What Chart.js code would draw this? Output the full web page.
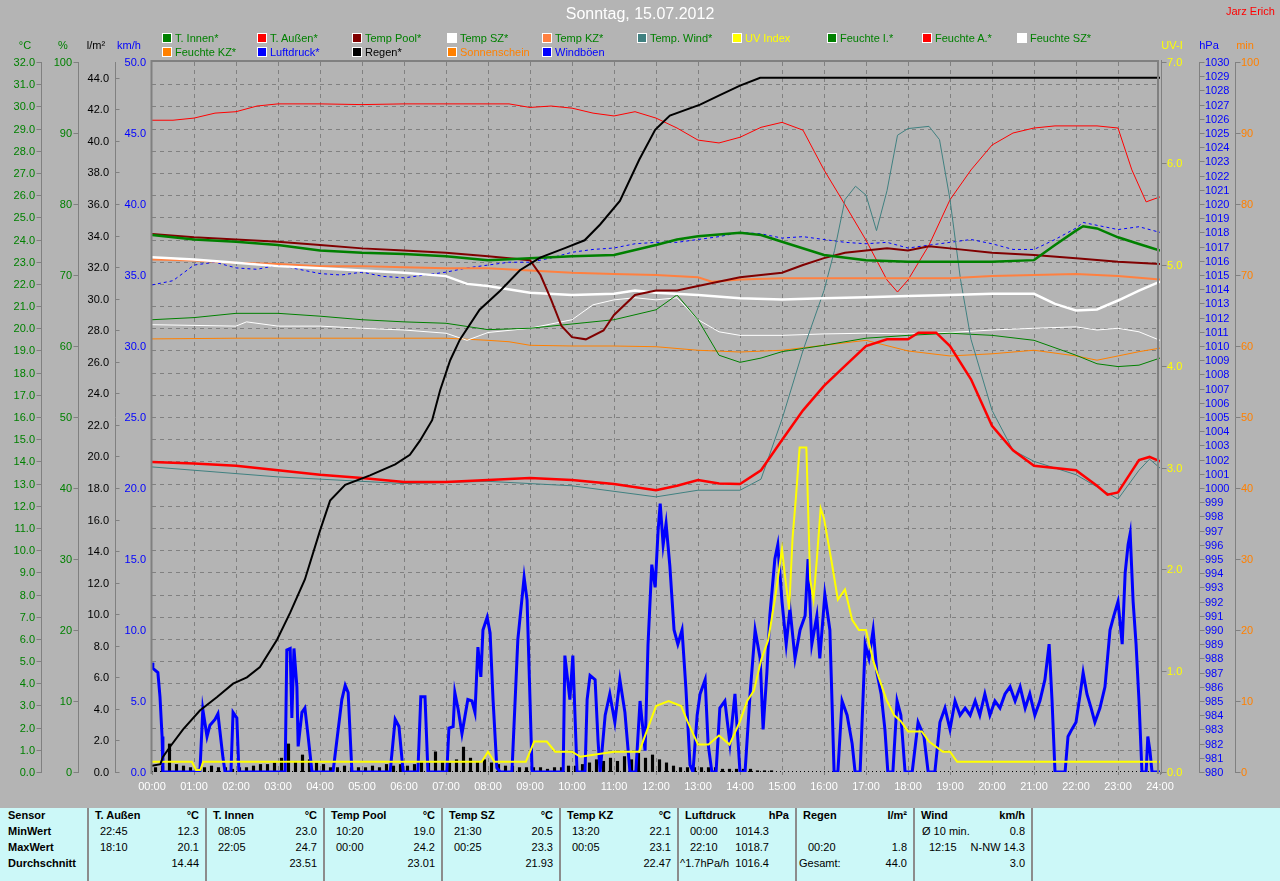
<!DOCTYPE html>
<html lang="de">
<head>
<meta charset="utf-8">
<title>Sonntag, 15.07.2012</title>
<script src="https://cdn.jsdelivr.net/npm/chart.js@4.4.0/dist/chart.umd.min.js"></script>
<style>
  html, body { margin:0; padding:0; background:#b4b4b4; width:1280px; height:881px; overflow:hidden;
    font-family:"Liberation Sans", Arial, sans-serif; }
  #wrap { position:relative; width:1280px; height:881px; }
  canvas { position:absolute; left:0; top:0; }
  .titel { position:absolute; left:0; width:1280px; top:5px; text-align:center; color:#fff; font-size:16px; }
  .autor { position:absolute; left:1226px; top:5px; color:#f00; font-size:11px; }
  .leg { position:absolute; font-size:11px; line-height:12px; white-space:nowrap; }
  .leg i { position:absolute; left:0; top:1px; width:8px; height:8px; border:1px solid #fff; }
  .leg span { position:absolute; left:13px; top:0; }
  #tabelle { position:absolute; left:0; top:808px; width:1280px; height:73px; background:#ccf8f8; font-size:11px; }
  #tabelle div { position:absolute; white-space:nowrap; line-height:14px; }
  #tabelle .b { font-weight:bold; }
  #tabelle .sep { width:2px; top:0; height:73px; background:#8c8c8c; }
</style>
</head>
<body>
<div id="wrap">
  <canvas id="diagramm" width="1280" height="881"></canvas>
  <div class="titel">Sonntag, 15.07.2012</div>
  <div class="autor">Jarz Erich</div>
  <div id="legende"></div>
  <div id="tabelle"></div>
</div>
<script>
// ============================
// Messwerte [Stunde, Wert]
// ============================
const regenSumme = [[0,0.4],[0.2,0.5],[0.26,0.95],[0.43,1.6],[0.74,2.7],[1.14,3.9],[1.55,4.75],[1.93,5.6],[2.26,6.0],
  [2.57,6.65],[2.98,8.4],[3.29,10.1],[3.64,12.2],[4.0,15.3],[4.24,17.2],[4.6,18.2],[5.19,18.8],[5.79,19.5],[6.14,20.1],
  [6.38,21.0],[6.67,22.3],[6.86,24.2],[7.1,26.1],[7.33,27.4],[7.8,29.3],[8.29,30.5],[8.76,31.8],[9.24,32.6],[9.83,33.2],
  [10.3,33.7],[10.67,34.7],[11.14,36.2],[11.6,38.8],[11.98,40.7],[12.33,41.6],[13.05,42.3],[13.52,42.9],[14.0,43.5],
  [14.48,44.0],[15.0,44.0],[24,44.0]];

// Regen je 10 Minuten ab 00:00 (l/m²)
const regenBalken = [0.3,0.4,1.8,0.5,0.4,0.3, 0.2,0.3,0.4,0.3,0.3,0.2, 0.3,0.3,0.4,0.5,0.5,0.6,
  0.9,1.8,0.7,1.1,0.8,0.6, 0.5,0.3,0.3,0.4,0.3,0.3, 0.3,0.4,0.3,0.5,0.4,0.5, 0.4,0.5,0.7,0.6,1.3,0.7,
  0.6,0.8,1.6,0.9,0.7,0.8, 0.6,0.5,0.4,0.4,0.3,0.3, 0.3,0.3,0.2,0.3,0.3,0.4, 0.4,0.5,0.6,0.8,0.7,0.9,
  0.7,1.0,0.8,1.2,0.9,1.1, 0.8,0.6,0.4,0.3,0.3,0.3, 0.3,0.3,0.3,0.2,0.2,0.2, 0.2,0.2,0.1,0.1,0.1,0];

const tAussen = [[0,13.97],[1,13.9],[2,13.8],[3,13.6],[4,13.4],[5,13.25],[6,13.07],[7,13.07],[8,13.16],[9,13.25],
  [10,13.16],[11,12.98],[12,12.7],[12.5,12.9],[13,13.16],[13.5,13.0],[14,12.98],[14.5,13.6],[15,14.96],[15.5,16.3],
  [16,17.4],[16.5,18.3],[17,19.2],[17.5,19.5],[18,19.5],[18.25,19.8],[18.67,19.8],[19,19.2],[19.5,17.7],[20,15.6],
  [20.5,14.5],[21,13.8],[21.5,13.7],[22,13.6],[22.5,12.9],[22.75,12.5],[23,12.6],[23.5,14.06],[23.75,14.2],[24,14.0]];

const tWind = [[0,13.75],[3,13.3],[6,13.0],[8,13.1],[10,12.9],[12,12.4],[13,12.7],[14,12.7],[14.5,13.2],[15,15.9],
  [15.5,19.0],[16,21.7],[16.25,23.5],[16.5,25.8],[16.75,26.4],[17,26.0],[17.25,24.4],[17.5,26.2],[17.75,28.7],
  [18,29.0],[18.5,29.1],[18.75,28.5],[19,25.8],[19.25,22.2],[19.5,19.5],[20,16.3],[20.5,14.5],[21,14.0],[22,13.4],
  [23,12.3],[23.5,13.6],[23.75,14.1],[24,13.7]];

const tInnen = [[0,24.2],[1,24.0],[2,23.9],[3,23.75],[4,23.5],[5,23.4],[6,23.35],[7,23.25],[8,23.07],[9,23.16],
  [10,23.25],[11,23.3],[12,23.75],[12.5,24.0],[13,24.15],[14,24.3],[14.5,24.2],[15,23.9],[16,23.3],[17,23.07],
  [18,23.0],[19,23.0],[20,23.0],[21,23.07],[21.5,23.75],[22,24.4],[22.17,24.6],[22.5,24.5],[23,24.1],[23.5,23.8],[24,23.5]];

const tPool = [[0,24.25],[1,24.1],[2,24.0],[3,23.9],[4,23.75],[5,23.6],[6,23.5],[7,23.4],[8,23.25],[9,23.07],
  [9.25,22.4],[9.5,21.3],[9.75,20.1],[10,19.6],[10.33,19.5],[10.75,19.9],[11,20.6],[11.5,21.5],[12,21.7],[12.5,21.7],
  [13,21.9],[14,22.3],[15,22.5],[15.5,22.85],[16,23.16],[16.5,23.4],[17,23.5],[17.5,23.6],[18,23.5],[18.5,23.7],
  [19,23.6],[20,23.4],[21,23.3],[22,23.16],[23,23.0],[24,22.9]];

const tKZ = [[0,23.1],[1,23.05],[2,22.95],[3,22.9],[4,22.8],[5,22.8],[6,22.75],[7,22.7],[8,22.7],[9,22.6],[10,22.5],
  [11,22.45],[12,22.4],[13,22.3],[13.33,22.1],[14,22.2],[15,22.25],[16,22.25],[17,22.25],[18,22.25],[19,22.25],
  [20,22.35],[21,22.4],[22,22.45],[23,22.35],[24,22.2]];

const tSZ = [[0,23.2],[1,23.1],[2,22.95],[3,22.8],[4,22.7],[5,22.6],[6,22.5],[7,22.35],[7.5,22.0],[8,21.9],[9,21.6],
  [10,21.5],[11,21.55],[11.5,21.7],[12,21.6],[13,21.5],[14,21.35],[15,21.3],[16,21.35],[17,21.4],[18,21.45],[19,21.5],
  [20,21.55],[21,21.55],[21.5,21.1],[22,20.8],[22.5,20.85],[23,21.25],[23.5,21.7],[24,22.1]];

const fInnen = [[0,63.7],[1,64.0],[2,64.6],[3,64.6],[4,64.2],[5,63.7],[6,63.4],[7,63.2],[8,62.3],[9,62.5],[10,63.1],
  [11,63.7],[12,65.1],[12.5,67.2],[13,63.7],[13.5,58.7],[14,57.7],[14.5,58.3],[15,59.2],[16,60.1],[17,61.1],[18,61.5],
  [19,61.8],[20,61.5],[21,60.8],[22,58.7],[22.5,57.5],[23,57.1],[23.5,57.3],[24,58.3]];

const fAussen = [[0,91.8],[0.5,91.8],[1,92.1],[1.5,92.8],[2,93.0],[2.5,93.8],[3,94.1],[4,94.1],[5,94.0],[6,94.1],
  [7,94.1],[8,94.1],[8.5,94.1],[9,93.6],[9.5,93.8],[10,93.5],[10.5,92.8],[11,92.4],[11.5,93.0],[12,92.1],[12.5,90.7],
  [13,89.0],[13.5,88.6],[14,89.4],[14.5,90.8],[15,91.5],[15.5,90.4],[16,84.8],[16.5,79.9],[17,74.9],[17.5,69.3],
  [17.75,67.6],[18,69.3],[18.5,74.2],[19,80.6],[19.5,84.8],[20,88.3],[20.5,90.0],[21,90.7],[21.5,91.0],[22,91.0],
  [22.5,91.0],[23,90.7],[23.33,84.8],[23.67,80.3],[24,81.0]];

const fSZ = [[0,63.0],[2,62.8],[2.25,63.4],[3,62.8],[4,62.8],[5,62.5],[6,62.25],[7,61.8],[7.5,60.8],[8,61.9],[9,62.5],
  [10,63.7],[10.5,65.8],[11,66.5],[11.5,66.8],[12,66.5],[12.5,66.8],[13,63.7],[13.5,62.0],[14,61.5],[15,61.5],[16,61.7],
  [17,61.8],[18,61.7],[19,61.9],[20,62.25],[21,62.5],[22,62.7],[22.5,62.25],[23,62.5],[23.5,62.0],[24,60.8]];

const fKZ = [[0,61.0],[2,61.1],[4,61.1],[6,61.1],[7,61.1],[8,60.8],[8.5,60.6],[9,60.1],[10,60.0],[11,60.0],[12,59.9],
  [13,59.4],[14,59.15],[15,59.4],[16,60.1],[17,60.8],[18,59.3],[19,58.6],[20,58.9],[21,59.4],[22,58.6],[22.5,58.0],
  [23,58.6],[23.5,59.2],[24,59.7]];

const luftdruck = [[0,1014.3],[0.5,1014.6],[1,1015.7],[1.5,1015.9],[2,1015.5],[2.5,1015.4],[3,1015.7],[3.5,1015.4],
  [4,1015.1],[4.5,1015.0],[5,1015.2],[5.5,1014.9],[6,1014.8],[6.5,1015.0],[7,1015.2],[7.5,1015.5],[8,1015.7],
  [8.5,1015.9],[9,1015.9],[9.5,1016.2],[10,1016.6],[10.5,1016.8],[11,1016.9],[11.5,1017.2],[12,1017.3],[12.5,1017.3],
  [13,1017.5],[13.5,1017.7],[14,1018.0],[14.5,1017.9],[15,1017.6],[15.5,1017.7],[16,1017.5],[16.5,1017.3],[17,1017.2],
  [17.5,1017.3],[18,1016.9],[18.5,1017.1],[19,1017.3],[19.5,1017.5],[20,1017.2],[20.5,1016.8],[21,1016.8],
  [21.5,1017.5],[22,1018.3],[22.17,1018.7],[22.5,1018.5],[23,1018.2],[23.5,1018.4],[24,1018.0]];

const windboeen = [[0,7.7],[0.02,7.3],[0.14,7.0],[0.19,5.3],[0.24,2.5],[0.26,0],[1.14,0],[1.21,4.4],[1.31,2.5],
  [1.38,3.3],[1.5,3.7],[1.57,4.1],[1.62,2.8],[1.69,1.0],[1.74,0],[1.88,0],[1.93,4.2],[2.02,3.8],[2.07,0],[3.17,0],
  [3.21,8.6],[3.29,8.7],[3.33,3.8],[3.38,8.7],[3.45,6.0],[3.48,1.8],[3.57,4.2],[3.64,4.5],[3.71,2.7],[3.81,0],[4.31,0],
  [4.52,5.1],[4.6,6.1],[4.67,5.6],[4.76,0],[5.67,0],[5.79,3.7],[5.88,3.2],[5.98,0],[6.33,0],[6.4,5.3],[6.5,5.3],
  [6.57,0],[7.02,0],[7.07,3.1],[7.17,3.2],[7.21,5.6],[7.29,4.4],[7.38,2.7],[7.45,3.9],[7.52,5.1],[7.62,5.0],[7.69,4.2],
  [7.76,8.8],[7.83,6.7],[7.88,10.0],[7.98,10.9],[8.05,9.8],[8.12,5.1],[8.21,0.3],[8.29,0],[8.57,0],[8.71,9.3],
  [8.86,13.7],[8.93,12.1],[9.0,5.1],[9.05,0],[9.79,0],[9.83,8.2],[9.95,5.1],[10.02,8.2],[10.12,0],[10.31,0],
  [10.36,5.1],[10.43,6.8],[10.55,6.5],[10.62,2.2],[10.67,0],[10.79,4.0],[10.9,5.5],[11.02,3.5],[11.14,6.5],
  [11.26,4.2],[11.38,0],[11.52,0],[11.62,5.0],[11.74,1.5],[11.81,9.0],[11.9,14.6],[11.98,13.0],[12.05,17.0],
  [12.1,18.9],[12.17,16.0],[12.24,17.5],[12.33,14.5],[12.43,10.0],[12.52,9.0],[12.62,10.0],[12.71,6.0],[12.81,0.5],
  [12.88,0],[12.98,4.0],[13.05,5.5],[13.17,6.5],[13.24,2.0],[13.33,0],[13.43,0],[13.52,4.5],[13.64,5.0],[13.76,2.0],
  [13.88,5.5],[14.0,0],[14.12,0],[14.24,5.5],[14.36,10.0],[14.48,8.0],[14.55,3.0],[14.64,7.0],[14.71,11.0],
  [14.83,15.0],[14.9,16.0],[15.0,12.0],[15.1,9.0],[15.19,11.5],[15.31,8.0],[15.43,10.0],[15.55,11.0],[15.62,15.0],
  [15.71,9.0],[15.83,11.0],[15.9,8.0],[16.02,12.5],[16.14,10.0],[16.24,0],[16.33,0],[16.43,5.0],[16.55,4.0],
  [16.67,2.0],[16.74,0],[16.86,0],[16.98,9.0],[17.07,8.0],[17.17,10.0],[17.26,7.0],[17.36,5.5],[17.45,3.0],[17.52,0],
  [17.64,0],[17.74,5.0],[17.83,4.0],[17.93,0],[18.1,0],[18.24,3.5],[18.38,2.5],[18.48,0],[18.64,0],[18.76,3.5],
  [18.88,4.5],[19.0,3.0],[19.12,5.0],[19.24,4.0],[19.36,4.5],[19.48,4.0],[19.6,5.0],[19.71,4.0],[19.83,5.5],
  [19.95,4.0],[20.07,5.0],[20.19,4.5],[20.31,5.5],[20.43,6.0],[20.55,5.0],[20.67,6.0],[20.79,4.5],[20.9,5.5],
  [21.02,4.0],[21.14,5.0],[21.26,6.5],[21.36,9.0],[21.43,5.0],[21.5,0],[21.74,0],[21.81,2.5],[21.9,3.0],[22.0,3.5],
  [22.1,5.5],[22.17,7.0],[22.26,5.5],[22.36,4.5],[22.45,3.5],[22.57,4.5],[22.69,6.0],[22.81,10.0],[22.9,11.0],
  [23.0,12.0],[23.1,9.0],[23.17,14.0],[23.24,16.0],[23.29,16.8],[23.36,12.0],[23.43,9.0],[23.5,5.0],[23.57,0],
  [23.67,0],[23.71,2.5],[23.76,1.5],[23.81,0],[24,0]];

const uvIndex = [[0,0.1],[0.95,0.1],[1.05,0.02],[1.15,0.02],[1.22,0.1],[7.85,0.1],[8.0,0.2],[8.15,0.1],[8.9,0.1],
  [9.1,0.3],[9.4,0.3],[9.6,0.2],[10.0,0.2],[10.2,0.15],[11.0,0.2],[11.6,0.2],[12.0,0.65],[12.3,0.7],[12.6,0.65],
  [12.75,0.5],[13.0,0.27],[13.25,0.27],[13.5,0.36],[13.75,0.27],[14.0,0.5],[14.17,0.7],[14.33,0.8],[14.5,1.1],
  [14.67,1.3],[14.83,1.7],[15.0,2.2],[15.08,1.9],[15.17,1.6],[15.25,2.3],[15.33,2.7],[15.42,3.2],[15.58,3.2],
  [15.67,1.9],[15.75,1.7],[15.83,2.1],[15.92,2.6],[16.0,2.5],[16.17,2.1],[16.25,1.9],[16.33,1.7],[16.5,1.8],
  [16.67,1.5],[16.83,1.4],[17.0,1.4],[17.17,1.1],[17.33,0.9],[17.5,0.7],[17.67,0.56],[17.83,0.5],[18.0,0.4],
  [18.33,0.4],[18.5,0.3],[18.83,0.2],[19.0,0.2],[19.17,0.1],[24,0.1]];

const stundenLabels = ['00:00','01:00','02:00','03:00','04:00','05:00','06:00','07:00','08:00','09:00','10:00','11:00',
  '12:00','13:00','14:00','15:00','16:00','17:00','18:00','19:00','20:00','21:00','22:00','23:00','24:00'];

// Legende: [Text, Kästchenfarbe, Textfarbe]
const legendeZeile1 = [['T. Innen*','#008000','#008000'],['T. Außen*','#ff0000','#008000'],
  ['Temp Pool*','#800000','#008000'],['Temp SZ*','#ffffff','#008000'],['Temp KZ*','#ff8040','#008000'],
  ['Temp. Wind*','#408080','#008000'],['UV Index','#ffff00','#ffff00'],['Feuchte I.*','#008000','#008000'],
  ['Feuchte A.*','#ff0000','#008000'],['Feuchte SZ*','#ffffff','#008000']];
const legendeZeile2 = [['Feuchte KZ*','#ff8000','#008000'],['Luftdruck*','#0000ff','#0000ff'],
  ['Regen*','#000000','#000000'],['Sonnenschein','#ff8000','#ff8000'],['Windböen','#0000ff','#0000ff']];

// Tabelle unten: [Sensor, Einheit, [Zeit, Wert] x3]
const tabSpalten = [
  ['T. Außen','°C',[['22:45','12.3'],['18:10','20.1'],['','14.44']]],
  ['T. Innen','°C',[['08:05','23.0'],['22:05','24.7'],['','23.51']]],
  ['Temp Pool','°C',[['10:20','19.0'],['00:00','24.2'],['','23.01']]],
  ['Temp SZ','°C',[['21:30','20.5'],['00:25','23.3'],['','21.93']]],
  ['Temp KZ','°C',[['13:20','22.1'],['00:05','23.1'],['','22.47']]],
  ['Luftdruck','hPa',[['00:00','1014.3'],['22:10','1018.7'],['^1.7hPa/h','1016.4']]],
  ['Regen','l/m²',[['',''],['00:20','1.8'],['Gesamt:','44.0']]],
  ['Wind','km/h',[['Ø 10 min.','0.8'],['12:15','N-NW 14.3'],['','3.0']]]
];
const tabZeilen = ['Sensor','MinWert','MaxWert','Durchschnitt'];

// ============================
// Achsen (links / rechts)
// ============================
const achsen = [
  {id:'yC', min:0, max:32, linie:41, tick:-5, lx:35, align:'right', schritt:1, dez:1, farbe:'#008000', titel:'°C', tx:25},
  {id:'yP', min:0, max:100, linie:78, tick:-5, lx:72, align:'right', schritt:10, dez:0, farbe:'#008000', titel:'%', tx:63},
  {id:'yR', min:0, max:45, linie:115, tick:4, lx:109, align:'right', schritt:2, dez:1, farbe:'#000000', titel:'l/m²', tx:96, bis:44},
  {id:'yW', min:0, max:50, linie:null, tick:0, lx:146, align:'right', schritt:5, dez:1, farbe:'#0000ff', titel:'km/h', tx:129},
  {id:'yUV', min:0, max:7, linie:1161, tick:5, lx:1167, align:'left', schritt:1, dez:1, farbe:'#ffff00', titel:'UV-I', tx:1172},
  {id:'yH', min:980, max:1030, linie:1199, tick:5, lx:1205, align:'left', schritt:1, dez:0, farbe:'#0000ff', titel:'hPa', tx:1209},
  {id:'yM', min:0, max:100, linie:1235, tick:5, lx:1241, align:'left', schritt:10, dez:0, farbe:'#ff8000', titel:'min', tx:1245}
];

const punkte = liste => liste.map(p => ({x: p[0], y: p[1]}));

const rahmenPlugin = {
  id: 'rahmen',
  beforeDatasetsDraw(chart) {
    const {ctx, chartArea: a, scales} = chart;
    ctx.save();
    ctx.strokeStyle = '#808080';
    ctx.lineWidth = 1;
    ctx.setLineDash([4, 4]);
    for (let h = 1; h < 24; h++) {
      const x = Math.round(scales.x.getPixelForValue(h)) + 0.5;
      ctx.beginPath(); ctx.moveTo(x, a.top); ctx.lineTo(x, a.bottom); ctx.stroke();
    }
    for (let t = 1; t < 32; t++) {
      const y = Math.round(scales.yC.getPixelForValue(t)) + 0.5;
      ctx.beginPath(); ctx.moveTo(a.left, y); ctx.lineTo(a.right, y); ctx.stroke();
    }
    // Nulllinie gepunktet
    ctx.strokeStyle = '#000';
    ctx.setLineDash([1, 3]);
    ctx.beginPath(); ctx.moveTo(a.left, a.bottom - 0.5); ctx.lineTo(a.right, a.bottom - 0.5); ctx.stroke();
    ctx.restore();
  },
  afterDatasetsDraw(chart) {
    const {ctx, chartArea: a, scales} = chart;
    ctx.save();
    // Rahmen
    ctx.strokeStyle = '#808080';
    ctx.lineWidth = 2;
    ctx.beginPath(); ctx.moveTo(a.left - 0.5, a.bottom + 2); ctx.lineTo(a.left - 0.5, a.top - 1);
    ctx.lineTo(a.right - 2, a.top - 1); ctx.lineTo(a.right - 2, a.bottom + 2); ctx.stroke();
    ctx.lineWidth = 1;
    ctx.beginPath(); ctx.moveTo(a.right + 1.5, a.top - 2); ctx.lineTo(a.right + 1.5, a.bottom + 2); ctx.stroke();

    ctx.font = '11px "Liberation Sans", Arial, sans-serif';
    ctx.textBaseline = 'middle';
    achsen.forEach(ax => {
      const s = scales[ax.id];
      ctx.strokeStyle = '#808080';
      ctx.lineWidth = 1;
      if (ax.linie !== null) {
        ctx.beginPath(); ctx.moveTo(ax.linie + 0.5, a.top); ctx.lineTo(ax.linie + 0.5, a.bottom + 1); ctx.stroke();
      }
      ctx.fillStyle = ax.farbe;
      ctx.textAlign = ax.align;
      const bis = ax.bis !== undefined ? ax.bis : ax.max;
      for (let v = ax.min; v <= bis + 1e-6; v += ax.schritt) {
        const y = Math.round(s.getPixelForValue(v)) + 0.5;
        if (ax.tick) {
          ctx.beginPath(); ctx.moveTo(ax.linie + 0.5, y); ctx.lineTo(ax.linie + 0.5 + ax.tick, y); ctx.stroke();
        }
        ctx.fillText(v.toFixed(ax.dez), ax.lx, y);
      }
      ctx.textAlign = 'center';
      ctx.fillText(ax.titel, ax.tx, 46);
    });

    // Zeitachse
    ctx.fillStyle = '#ffffff';
    ctx.textAlign = 'center';
    stundenLabels.forEach((lab, h) => {
      const x = scales.x.getPixelForValue(h);
      ctx.strokeStyle = '#808080';
      ctx.beginPath(); ctx.moveTo(Math.round(x) + 0.5, a.bottom); ctx.lineTo(Math.round(x) + 0.5, a.bottom + 3); ctx.stroke();
      ctx.fillText(lab, x, a.bottom + 15);
    });
    ctx.restore();
  }
};

function linie(label, daten, farbe, breite, achse, extra) {
  return Object.assign({
    type: 'line', label: label, data: punkte(daten), borderColor: farbe, backgroundColor: farbe,
    borderWidth: breite, pointRadius: 0, tension: 0, fill: false, yAxisID: achse, xAxisID: 'x'
  }, extra || {});
}

const skalen = { x: { type: 'linear', min: 0, max: 24, display: false, offset: false } };
achsen.forEach(ax => { skalen[ax.id] = { type: 'linear', min: ax.min, max: ax.max, display: false }; });

const datensaetze = [
  {
    type: 'bar', label: 'Regen 10 min', yAxisID: 'yR', xAxisID: 'x',
    data: regenBalken.map((v, i) => ({x: i / 6 + 1 / 12, y: v})),
    backgroundColor: '#000000', borderWidth: 0, barPercentage: 0.45, categoryPercentage: 1, order: 20
  },
  linie('Feuchte KZ*', fKZ, '#ff8000', 1, 'yP', {order: 14}),
  linie('Feuchte SZ*', fSZ, '#ffffff', 1, 'yP', {order: 13}),
  linie('Feuchte I.*', fInnen, '#008000', 1, 'yP', {order: 12}),
  linie('Feuchte A.*', fAussen, '#ff0000', 1, 'yP', {order: 11}),
  linie('Luftdruck*', luftdruck, '#0000ff', 1, 'yH', {borderDash: [3, 3], order: 10}),
  linie('Temp. Wind*', tWind, '#408080', 1, 'yC', {order: 9}),
  linie('Temp KZ*', tKZ, '#ff8040', 2, 'yC', {order: 8}),
  linie('Temp SZ*', tSZ, '#ffffff', 2.5, 'yC', {order: 7}),
  linie('Temp Pool*', tPool, '#800000', 2, 'yC', {order: 6}),
  linie('T. Innen*', tInnen, '#008000', 2.5, 'yC', {order: 5}),
  linie('T. Außen*', tAussen, '#ff0000', 2.5, 'yC', {order: 4}),
  linie('Windböen', windboeen, '#0000ff', 3, 'yW', {order: 3}),
  linie('UV Index', uvIndex, '#ffff00', 2, 'yUV', {order: 2}),
  linie('Regen*', regenSumme, '#000000', 2, 'yR', {order: 1})
];

new Chart(document.getElementById('diagramm'), {
  type: 'line',
  data: { datasets: datensaetze },
  options: {
    responsive: false,
    animation: false,
    devicePixelRatio: 1,
    layout: { padding: { left: 152, right: 120, top: 62, bottom: 109 } },
    plugins: { legend: { display: false }, title: { display: false }, tooltip: { enabled: false } },
    scales: skalen
  },
  plugins: [rahmenPlugin]
});

// ============================
// Legende (HTML)
// ============================
const legEl = document.getElementById('legende');
[legendeZeile1, legendeZeile2].forEach((zeile, r) => {
  zeile.forEach((item, c) => {
    const d = document.createElement('div');
    d.className = 'leg';
    d.style.left = (162 + 95 * c) + 'px';
    d.style.top = (32 + 14 * r) + 'px';
    d.innerHTML = `<i style="background:${item[1]}"></i><span style="color:${item[2]}">${item[0]}</span>`;
    legEl.appendChild(d);
  });
});

// ============================
// Tabelle (HTML)
// ============================
const tab = document.getElementById('tabelle');
const zeilenTop = [7, 23, 39, 55];
function feld(text, left, top, fett, rechts) {
  const d = document.createElement('div');
  if (fett) d.className = 'b';
  d.textContent = text;
  d.style.top = (top - 7) + 'px';
  if (rechts) { d.style.right = (1280 - left) + 'px'; } else { d.style.left = left + 'px'; }
  tab.appendChild(d);
}
tabZeilen.forEach((t, i) => feld(t, 8, zeilenTop[i], true, false));
tabSpalten.forEach((sp, i) => {
  const x0 = 88 + 118 * i;
  const sep = document.createElement('div');
  sep.className = 'sep';
  sep.style.left = (x0 - 1) + 'px';
  tab.appendChild(sep);
  feld(sp[0], x0 + 7, zeilenTop[0], true, false);
  feld(sp[1], x0 + 111, zeilenTop[0], true, true);
  const wertRechts = sp[0] === 'Luftdruck' ? x0 + 91 : x0 + 111;
  sp[2].forEach((z, r) => {
    let zx = x0 + 12;
    if (z[0].startsWith('^')) zx = x0 + 2;
    if (z[0] === 'Gesamt:') zx = x0 + 3;
    if (z[0].startsWith('Ø')) zx = x0 + 8;
    if (sp[0] === 'Wind' && z[0] === '12:15') zx = x0 + 15;
    if (z[0]) feld(z[0], zx, zeilenTop[r + 1], false, false);
    if (z[1]) feld(z[1], wertRechts, zeilenTop[r + 1], false, true);
  });
});
const sepEnde = document.createElement('div');
sepEnde.className = 'sep';
sepEnde.style.left = (88 + 118 * 8 - 1) + 'px';
tab.appendChild(sepEnde);
</script>
</body>
</html>
